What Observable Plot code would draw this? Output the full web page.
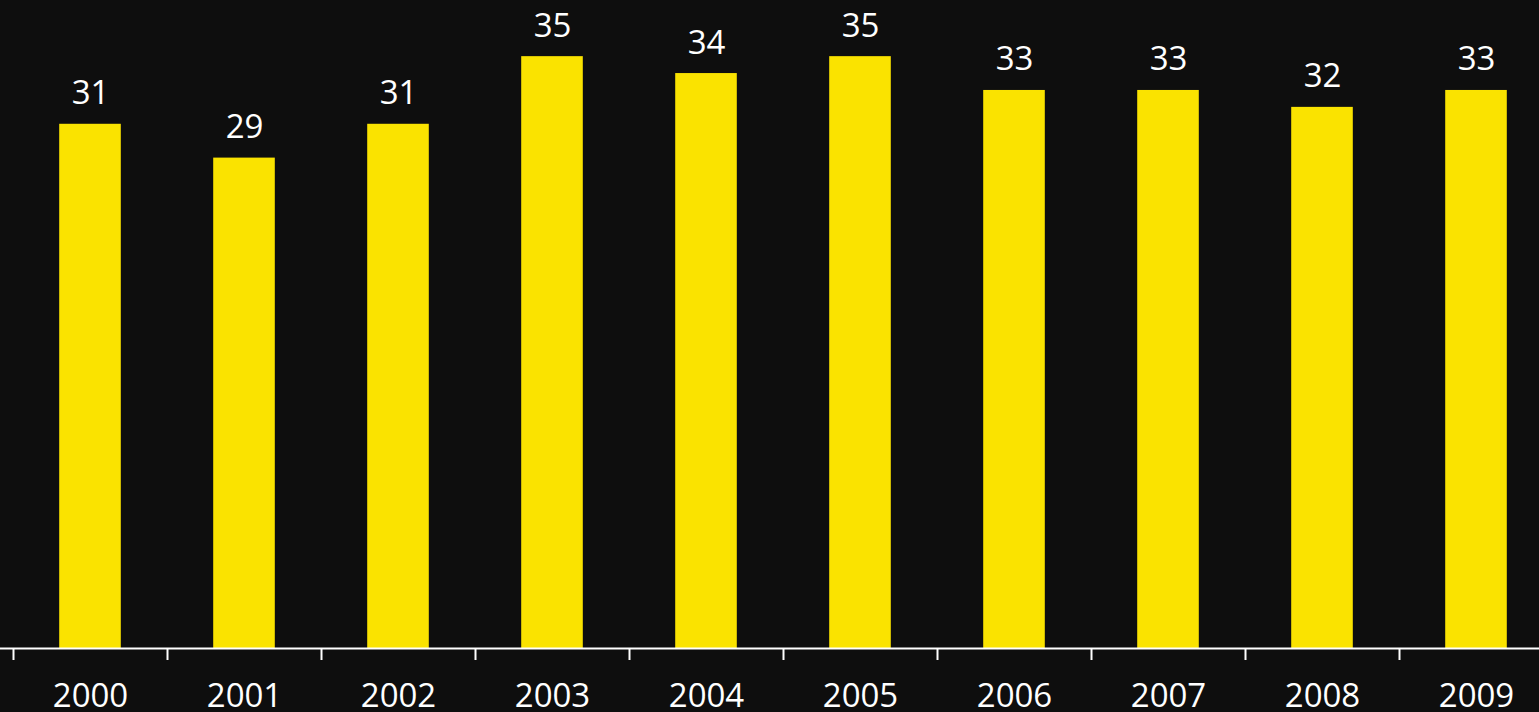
<!DOCTYPE html>
<html>
<head>
<meta charset="utf-8">
<script src="https://cdn.jsdelivr.net/npm/d3@7"></script>
<script src="https://cdn.jsdelivr.net/npm/@observablehq/plot@0.6"></script>
<style>
  html, body { margin: 0; padding: 0; background: #0e0e0e; overflow: hidden; }
  #chart svg { display: block; }
</style>
</head>
<body>
<div id="chart"></div>
<script>
const years = [2000, 2001, 2002, 2003, 2004, 2005, 2006, 2007, 2008, 2009];
const values = [31, 29, 31, 35, 34, 35, 33, 33, 32, 33];

const data = years.map((year, i) => ({year, value: values[i]}));
const boundaries = years.map(y => y - 0.5);

const chart = Plot.plot({
  width: 1539,
  height: 712,
  marginTop: 0,
  marginBottom: 64,
  marginLeft: 0,
  marginRight: 0,
  style: {background: "#0e0e0e", color: "#ffffff", fontFamily: "'Open Sans', sans-serif"},
  x: {type: "linear", domain: [1999.5, 2009.5], range: [13, 1553], label: null},
  y: {domain: [0, 38.32], axis: null, label: null},
  marks: [
    Plot.rectY(data, {x1: d => d.year - 0.2, x2: d => d.year + 0.2, y: "value", fill: "#fae300"}),
    Plot.ruleY([0], {stroke: "#ffffff", strokeWidth: 2}),
    Plot.axisX(boundaries, {tickSize: 12, tickFormat: () => "", label: null, stroke: "#ffffff", strokeWidth: 2}),
    Plot.text(data, {x: "year", y: 0, text: d => String(d.year), dy: 58, lineAnchor: "bottom", fill: "#ffffff", fontSize: 33}),
    Plot.text(data, {x: "year", y: "value", text: d => String(d.value), dy: -20, lineAnchor: "bottom", fill: "#ffffff", fontSize: 33})
  ]
});
document.getElementById("chart").appendChild(chart);
</script>
</body>
</html>
